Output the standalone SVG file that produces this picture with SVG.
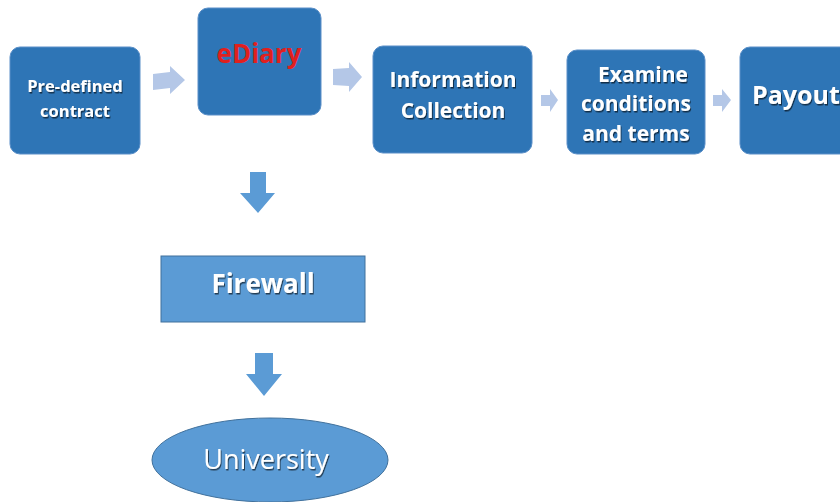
<svg xmlns="http://www.w3.org/2000/svg" width="840" height="502" viewBox="0 0 840 502">
<style>
.box{fill:#2e75b6;stroke:#5a8fc8;stroke-width:1}
.lt{fill:#5b9bd5;stroke:#41719c;stroke-width:1}
.t{font-family:"Open Sans","Liberation Sans",sans-serif;font-weight:bold;fill:#ffffff;text-anchor:middle;filter:url(#sh)}
.ha{fill:#b4c7e7}
.va{fill:#5b9bd5}
</style>
<defs>
<filter id="sh" x="-10%" y="-20%" width="130%" height="150%">
<feDropShadow dx="1" dy="1.5" stdDeviation="0.6" flood-color="#000" flood-opacity="0.6"/>
</filter>
</defs>
<rect width="840" height="502" fill="#ffffff"/>
<g id="connectors">
<polygon class="ha" points="153,74 170,72 170,66 185,80 170,94 170,88 153,90"/>
<polygon class="ha" points="333,69 349,68 349,62 362,77 349,92 349,86 333,85"/>
<polygon class="ha" points="541,95 550,95 550,89 558,100 550,112 550,106 541,106"/>
<polygon class="ha" points="713,95 722,95 722,89 731,100 722,112 722,106 713,106"/>
<polygon class="va" points="250,172 266,172 266,193 275,193 258,213 240,193 250,193"/>
<polygon class="va" points="255,353 273,353 273,374 282,374 264,396 246,374 255,374"/>
</g>
<g id="predefined">
<rect class="box" x="10" y="47" width="130" height="107" rx="10"/>
<text class="t" x="75" y="92" font-size="16.5">Pre-defined</text>
<text class="t" x="75" y="117" font-size="16.5">contract</text>
</g>
<g id="ediary">
<rect class="box" x="198" y="8" width="123" height="107" rx="10"/>
<text x="259" y="63" font-size="26" font-family="'Open Sans','Liberation Sans',sans-serif" font-weight="bold" fill="#e0201e" text-anchor="middle">eDiary</text>
</g>
<g id="information">
<rect class="box" x="373" y="46" width="159" height="107" rx="10"/>
<text class="t" x="453" y="87" font-size="21">Information</text>
<text class="t" x="453" y="118" font-size="21">Collection</text>
</g>
<g id="examine">
<rect class="box" x="567" y="50" width="138" height="104" rx="10"/>
<text class="t" x="643" y="82" font-size="21">Examine</text>
<text class="t" x="636" y="111" font-size="21">conditions</text>
<text class="t" x="636" y="141" font-size="21">and terms</text>
</g>
<g id="payout">
<rect class="box" x="740" y="47" width="110" height="107" rx="10"/>
<text class="t" x="752" y="104" font-size="25" style="text-anchor:start">Payout</text>
</g>
<g id="firewall">
<rect class="lt" x="161" y="256" width="204" height="66"/>
<text class="t" x="263" y="293" font-size="26">Firewall</text>
</g>
<g id="university">
<ellipse class="lt" cx="270" cy="460" rx="118" ry="42"/>
<text class="t" x="266" y="469" font-size="27" style="font-weight:normal">University</text>
</g>
</svg>
